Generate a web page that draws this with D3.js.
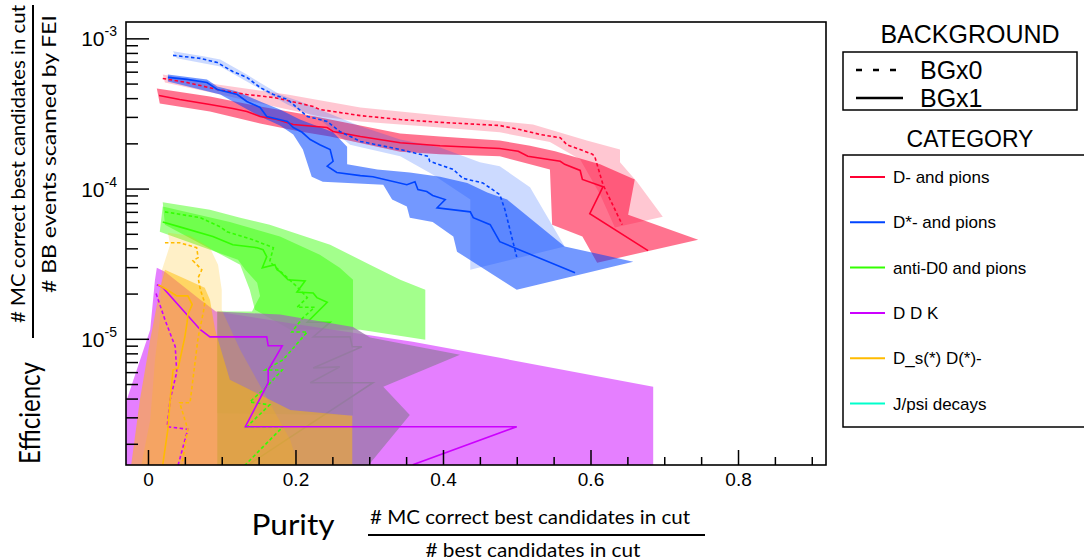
<!DOCTYPE html>
<html><head><meta charset="utf-8">
<script src="https://cdn.jsdelivr.net/npm/d3@7"></script>
<style>body{margin:0;background:#fff;} svg{display:block;}</style>
</head><body><svg id="c" width="1084" height="560"></svg>
<script>
// ---------------- DATA (purity, efficiency) ----------------
const categories = ["D- and pions","D*- and pions","anti-D0 and pions","D D K","D_s(*) D(*)-","J/psi decays"];
const backgrounds = ["BGx0","BGx1"];
const xTicks = [0,0.2,0.4,0.6,0.8];
const yTicks = [1e-3,1e-4,1e-5];
const yTickExp = ["-3","-4","-5"];

// D- and pions
const redX1Line = [[0.015,4.17e-4],[0.043,3.92e-4],[0.084,3.63e-4],[0.115,3.41e-4],[0.134,3.26e-4],[0.152,3.02e-4],[0.175,2.88e-4],[0.197,2.67e-4],[0.243,2.55e-4],[0.251,2.40e-4],[0.288,2.22e-4],[0.342,2.02e-4],[0.396,1.93e-4],[0.477,1.85e-4],[0.502,1.77e-4],[0.515,1.64e-4],[0.559,1.52e-4],[0.565,1.45e-4],[0.586,1.32e-4],[0.589,1.15e-4],[0.617,1.03e-4],[0.599,6.8e-5],[0.678,3.86e-5]];
const redX1Up = [[0.012,4.64e-4],[0.084,4.10e-4],[0.152,3.52e-4],[0.206,3.16e-4],[0.247,2.88e-4],[0.342,2.33e-4],[0.396,2.22e-4],[0.477,2.09e-4],[0.518,1.93e-4],[0.552,1.77e-4],[0.613,1.45e-4],[0.660,1.15e-4],[0.651,6.7e-5],[0.746,4.57e-5]];
const redX1Lo = [[0.016,3.69e-4],[0.084,3.26e-4],[0.152,2.71e-4],[0.206,2.40e-4],[0.247,2.22e-4],[0.342,1.76e-4],[0.396,1.69e-4],[0.477,1.64e-4],[0.518,1.45e-4],[0.545,1.34e-4],[0.548,5.75e-5],[0.589,4.79e-5],[0.609,3.21e-5]];
const redX0Line = [[0.020,5.41e-4],[0.053,5.08e-4],[0.094,4.57e-4],[0.134,4.23e-4],[0.170,4.04e-4],[0.189,3.86e-4],[0.224,3.52e-4],[0.233,3.36e-4],[0.288,3.06e-4],[0.342,2.88e-4],[0.396,2.76e-4],[0.477,2.63e-4],[0.504,2.47e-4],[0.532,2.29e-4],[0.559,2.18e-4],[0.568,1.96e-4],[0.603,1.69e-4],[0.606,1.62e-4],[0.617,1.06e-4],[0.643,5.75e-5]];
const redX0Up = [[0.020,5.75e-4],[0.094,4.93e-4],[0.189,4.23e-4],[0.288,3.47e-4],[0.396,3.06e-4],[0.522,2.67e-4],[0.595,2.09e-4],[0.640,1.82e-4],[0.640,1.50e-4],[0.663,1.11e-4],[0.698,6.5e-5]];
const redX0Lo = [[0.023,5.08e-4],[0.098,4.23e-4],[0.233,3.02e-4],[0.288,2.80e-4],[0.396,2.55e-4],[0.477,2.37e-4],[0.545,2.04e-4],[0.586,1.56e-4],[0.613,9.12e-5],[0.633,5.5e-5]];

// D*- and pions
const blueX1Line = [[0.027,5.5e-4],[0.053,5.33e-4],[0.080,5.08e-4],[0.094,4.57e-4],[0.121,4.23e-4],[0.134,3.8e-4],[0.152,3.47e-4],[0.161,3.02e-4],[0.189,2.8e-4],[0.197,2.55e-4],[0.209,2.37e-4],[0.220,2.12e-4],[0.233,1.96e-4],[0.247,1.82e-4],[0.251,1.52e-4],[0.243,1.41e-4],[0.256,1.28e-4],[0.288,1.22e-4],[0.305,1.20e-4],[0.351,1.06e-4],[0.362,1.11e-4],[0.366,9.85e-5],[0.378,9.55e-5],[0.386,9.0e-5],[0.403,8.45e-5],[0.392,7.45e-5],[0.437,7.0e-5],[0.441,6.4e-5],[0.464,5.75e-5],[0.477,4.43e-5],[0.579,2.75e-5]];
const blueX1Up = [[0.027,5.75e-4],[0.080,5.33e-4],[0.094,4.79e-4],[0.121,4.43e-4],[0.152,3.8e-4],[0.179,3.36e-4],[0.206,2.88e-4],[0.251,2.37e-4],[0.270,1.9e-4],[0.270,1.45e-4],[0.311,1.34e-4],[0.355,1.28e-4],[0.396,1.2e-4],[0.433,1.09e-4],[0.460,9.4e-5],[0.487,8.45e-5],[0.565,4.12e-5],[0.658,3.26e-5]];
const blueX1Lo = [[0.027,5.16e-4],[0.098,4.23e-4],[0.152,3.02e-4],[0.179,2.63e-4],[0.197,2.29e-4],[0.210,1.82e-4],[0.222,1.2e-4],[0.237,1.11e-4],[0.319,1.06e-4],[0.331,8.45e-5],[0.351,7.6e-5],[0.355,6.4e-5],[0.386,6.0e-5],[0.414,4.79e-5],[0.419,3.8e-5],[0.500,2.12e-5]];
const blueX0Line = [[0.034,7.7e-4],[0.071,7.36e-4],[0.094,6.9e-4],[0.115,6.02e-4],[0.134,5.5e-4],[0.152,4.71e-4],[0.170,4.23e-4],[0.189,3.92e-4],[0.197,3.63e-4],[0.216,3.02e-4],[0.243,2.8e-4],[0.260,2.4e-4],[0.278,2.18e-4],[0.288,2.06e-4],[0.342,1.82e-4],[0.380,1.64e-4],[0.382,1.52e-4],[0.414,1.34e-4],[0.427,1.17e-4],[0.454,1.09e-4],[0.477,9.12e-5],[0.484,7.24e-5],[0.500,3.5e-5]];
const blueX0Up = [[0.034,8.2e-4],[0.075,7.6e-4],[0.098,7.24e-4],[0.134,5.75e-4],[0.156,4.93e-4],[0.179,4.23e-4],[0.206,3.8e-4],[0.288,2.6e-4],[0.342,2.12e-4],[0.396,1.88e-4],[0.450,1.5e-4],[0.477,1.41e-4],[0.518,1.02e-4],[0.565,4.12e-5]];
const blueX0Lo = [[0.039,7.36e-4],[0.098,6.5e-4],[0.189,3.63e-4],[0.233,2.88e-4],[0.274,1.96e-4],[0.342,1.64e-4],[0.386,1.24e-4],[0.437,8.45e-5],[0.437,2.88e-5]];

// anti-D0 and pions
const greenX1Line = [[0.020,6.0e-5],[0.043,5.56e-5],[0.088,4.79e-5],[0.115,4.23e-5],[0.148,4.04e-5],[0.156,3.92e-5],[0.161,3.52e-5],[0.155,2.97e-5],[0.172,3.11e-5],[0.175,2.88e-5],[0.179,2.8e-5],[0.190,2.47e-5],[0.213,2.43e-5],[0.202,2.05e-5],[0.224,2.02e-5],[0.229,1.88e-5],[0.243,1.75e-5],[0.216,1.29e-5],[0.247,1.29e-5],[0.224,1.03e-5],[0.274,1.03e-5],[0.277,8.85e-6],[0.290,8.85e-6],[0.224,6.4e-6],[0.260,6.5e-6],[0.220,5.1e-6],[0.305,5.1e-6],[0.1315,1.4e-6]];
const greenX1Up = [[0.020,7.6e-5],[0.111,6.0e-5],[0.179,4.79e-5],[0.233,3.63e-5],[0.260,2.97e-5],[0.278,2.47e-5],[0.278,3.1e-6]];
const greenX1Lo = [[0.016,5.16e-5],[0.122,3.36e-5],[0.132,2.88e-5],[0.148,2.36e-5],[0.152,1.93e-5],[0.141,1.52e-5],[0.094,1.52e-5],[0.094,3.2e-6]];
const greenX0Line = [[0.023,7.0e-5],[0.071,6.4e-5],[0.098,5.56e-5],[0.107,5.16e-5],[0.142,4.57e-5],[0.170,4.04e-5],[0.165,3.26e-5],[0.189,2.55e-5],[0.202,2.22e-5],[0.216,1.88e-5],[0.202,1.62e-5],[0.226,1.62e-5],[0.210,1.38e-5],[0.195,1.11e-5],[0.216,1.11e-5],[0.183,7.24e-6],[0.159,6.2e-6],[0.182,6.2e-6],[0.161,4.8e-6],[0.138,3.8e-6],[0.165,3.63e-6],[0.134,2.6e-6],[0.183,2.6e-6],[0.129,1.4e-6]];
const greenX0Up = [[0.020,8.1e-5],[0.084,7.24e-5],[0.125,6.4e-5],[0.165,5.75e-5],[0.206,4.93e-5],[0.247,4.23e-5],[0.301,3.11e-5],[0.342,2.47e-5],[0.376,2.12e-5],[0.376,9.85e-6]];
const greenX0Lo = [[0.023,5.75e-5],[0.125,3.11e-5],[0.138,2.12e-5],[0.145,1.56e-5],[0.193,1.15e-5],[0.288,1.15e-5]];

// D D K
const ddkX1Line = [[0.012,2.29e-5],[0.020,2.2e-5],[0.071,1.15e-5],[0.084,1.03e-5],[0.161,1.03e-5],[0.163,8.98e-6],[0.182,8.98e-6],[0.163,6.2e-6],[0.163,5.1e-6],[0.132,2.6e-6],[0.500,2.6e-6],[0.359,1.45e-6]];
const ddkX1Up = [[0.012,2.97e-5],[0.023,2.8e-5],[0.071,1.82e-5],[0.092,1.52e-5],[0.206,1.24e-5],[0.359,9.55e-6],[0.477,7.47e-6],[0.685,4.79e-6],[0.685,1.3e-6]];
const ddkX1Lo = [[0.0095,2.47e-5],[0.003,1.15e-5],[-0.038,2.88e-6],[-0.038,1.3e-6]];
const ddkX0Line = [[0.011,2.0e-5],[0.023,1.34e-5],[0.037,8.85e-6],[0.039,6.0e-6],[0.030,3.92e-6],[0.026,2.6e-6],[0.054,2.5e-6],[0.041,1.45e-6]];
const ddkX0Up = [[0.094,1.52e-5],[0.179,1.45e-5],[0.278,1.2e-5],[0.301,1.02e-5],[0.423,7.82e-6]];
const ddkX0Lo = [[0.094,1.3e-6],[0.2915,1.3e-6],[0.355,3.11e-6],[0.319,4.79e-6]];

// D_s(*) D(*)-
const dsX1Line = [[0.014,2.29e-5],[0.026,2.12e-5],[0.039,1.93e-5],[0.054,1.93e-5],[0.060,1.69e-5],[0.054,1.45e-5],[0.053,1.28e-5],[0.050,1.03e-5],[0.041,6.4e-6],[0.034,6.2e-6],[0.030,3.92e-6],[0.027,2.5e-6],[0.020,1.45e-6]];
const dsX1Up = [[0.023,2.88e-5],[0.077,2.19e-5],[0.084,1.82e-5],[0.091,1.15e-5],[0.111,5.33e-6],[0.193,3.36e-6],[0.277,3.07e-6],[0.277,1.3e-6]];
const dsX1Lo = [[0.016,2.12e-5],[0.003,9.85e-6],[-0.011,3.92e-6],[-0.024,1.3e-6]];
const dsX0Line = [[0.023,4.36e-5],[0.043,4.36e-5],[0.066,4.04e-5],[0.068,3.47e-5],[0.061,3.31e-5],[0.073,2.88e-5],[0.068,2.55e-5],[0.071,2.12e-5],[0.077,1.74e-5],[0.075,1.5e-5],[0.071,1.2e-5],[0.068,1.02e-5],[0.057,3.75e-6],[0.043,3.75e-6],[0.054,2.5e-6],[0.046,1.45e-6]];
const dsX0Up = [[0.027,5.08e-5],[0.057,4.86e-5],[0.084,4.04e-5],[0.095,3.11e-5],[0.100,2.12e-5],[0.100,1.56e-5],[0.125,8.45e-6],[0.193,2.12e-6],[0.206,1.3e-6]];
const dsX0Lo = [[0.030,4.23e-5],[0.019,2.88e-5],[0.016,1.34e-5],[0.0095,7.24e-6],[0.003,2.88e-6],[-0.011,1.3e-6]];

// ---------------- STYLE ----------------
const COL = {red:"#ff0033", blue:"#0044ff", green:"#33ff00", purple:"#cc00ff", yellow:"#ffbb00", cyan:"#00ffcc"};
const catColors = [COL.red, COL.blue, COL.green, COL.purple, COL.yellow, COL.cyan];
const FONT = "'Liberation Sans', Arial, sans-serif";
const TFONT = "Lato, 'Open Sans', sans-serif";

const svg = d3.select("#c");
const X0=126, X1=826, Y0=22, Y1=465;
const x = d3.scaleLinear().domain([-0.0298,0.9193]).range([X0,X1]);
const y = d3.scaleLog().domain([1.445e-6,1.285e-3]).range([Y1,Y0]);

svg.append("defs").append("clipPath").attr("id","clip")
  .append("rect").attr("x",X0).attr("y",Y0).attr("width",X1-X0).attr("height",Y1-Y0);
const plot = svg.append("g").attr("clip-path","url(#clip)");

const lineGen = d3.line().x(d=>x(d[0])).y(d=>y(d[1]));
function band(up, lo, fill, op){
  const pts = up.concat(lo.slice().reverse());
  plot.append("path").attr("d", lineGen(pts)+"Z").attr("fill",fill).attr("fill-opacity",op).attr("stroke","none");
}
function line(data, color, dashed){
  plot.append("path").attr("d", lineGen(data)).attr("fill","none").attr("stroke",color)
    .attr("stroke-width",1.6).attr("stroke-linejoin","miter")
    .attr("stroke-dasharray", dashed ? "3.5,2.5" : null);
}

// layers in drawing order
band(redX0Up, redX0Lo, COL.red, 0.22);
band(redX1Up, redX1Lo, COL.red, 0.55);
band(blueX0Up, blueX0Lo, COL.blue, 0.2);
band(blueX1Up, blueX1Lo, COL.blue, 0.55);
band(greenX0Up, greenX0Lo, COL.green, 0.45);
band(greenX1Up, greenX1Lo, COL.green, 0.45);
line(greenX1Line, COL.green, false);
band(ddkX1Up, ddkX1Lo, COL.purple, 0.5);
band(ddkX0Up, ddkX0Lo, "rgb(156,121,171)", 0.79);
band(dsX0Up, dsX0Lo, COL.yellow, 0.22);
band(dsX1Up, dsX1Lo, COL.yellow, 0.5);

line(redX1Line, COL.red, false);
line(redX0Line, COL.red, true);
line(blueX1Line, COL.blue, false);
line(blueX0Line, COL.blue, true);
line(greenX0Line, COL.green, true);
line(ddkX1Line, COL.purple, false);
line(ddkX0Line, COL.purple, true);
line(dsX1Line, COL.yellow, false);
line(dsX0Line, COL.yellow, true);

// ---------------- AXES ----------------
const xMinor = d3.range(0, 0.92, 0.05).filter(v => !xTicks.some(t => Math.abs(t-v)<1e-9));
const xMajAxis = d3.axisBottom(x).tickValues(xTicks).tickSize(-15).tickPadding(8)
  .tickFormat(d => d===0 ? "0" : d3.format(".1f")(d));
const gx = svg.append("g").attr("transform",`translate(0,${Y1})`).call(xMajAxis);
gx.select(".domain").remove();
gx.selectAll("line").attr("stroke","#000").attr("stroke-width",1.5);
gx.selectAll("text").attr("font-family",FONT).attr("font-size",19).attr("fill","#000");
const gxm = svg.append("g").attr("transform",`translate(0,${Y1})`)
  .call(d3.axisBottom(x).tickValues(xMinor).tickSize(-8).tickFormat(""));
gxm.select(".domain").remove();
gxm.selectAll("line").attr("stroke","#000").attr("stroke-width",1.5);

const yMinor = [];
[1e-6,1e-5,1e-4,1e-3].forEach(d => { for (let m=2;m<=9;m++){ const v=m*d; if (v>1.445e-6 && v<1.285e-3) yMinor.push(v);} });
const gy = svg.append("g").attr("transform",`translate(${X0},0)`)
  .call(d3.axisRight(y).tickValues(yTicks).tickSize(23).tickFormat(""));
gy.select(".domain").remove();
gy.selectAll("line").attr("stroke","#000").attr("stroke-width",1.5);
const gym = svg.append("g").attr("transform",`translate(${X0},0)`)
  .call(d3.axisRight(y).tickValues(yMinor).tickSize(12).tickFormat(""));
gym.select(".domain").remove();
gym.selectAll("line").attr("stroke","#000").attr("stroke-width",1.5);

yTicks.forEach((v,i) => {
  const t = svg.append("text").attr("x",117).attr("y",y(v)+8).attr("text-anchor","end")
    .attr("font-family",FONT).attr("font-size",21).attr("fill","#000");
  t.append("tspan").text("10");
  t.append("tspan").attr("dy",-10).attr("font-size",14).text(yTickExp[i]);
});

// frame
svg.append("rect").attr("x",X0).attr("y",Y0).attr("width",X1-X0).attr("height",Y1-Y0)
  .attr("fill","none").attr("stroke","#000").attr("stroke-width",1.6);

// ---------------- TITLES ----------------
svg.append("text").attr("x",293).attr("y",535).attr("text-anchor","middle")
  .attr("font-family",TFONT).attr("font-size",29).attr("textLength",83).attr("lengthAdjust","spacingAndGlyphs").text("Purity");
svg.append("text").attr("x",530).attr("y",524).attr("text-anchor","middle")
  .attr("font-family",TFONT).attr("font-size",19).attr("textLength",320).attr("lengthAdjust","spacingAndGlyphs")
  .text("# MC correct best candidates in cut");
svg.append("line").attr("x1",368).attr("x2",705).attr("y1",535).attr("y2",535).attr("stroke","#000").attr("stroke-width",2);
svg.append("text").attr("x",533).attr("y",557).attr("text-anchor","middle")
  .attr("font-family",TFONT).attr("font-size",19).attr("textLength",215).attr("lengthAdjust","spacingAndGlyphs")
  .text("# best candidates in cut");

svg.append("text").attr("transform","translate(40,413) rotate(-90)").attr("text-anchor","middle")
  .attr("font-family",TFONT).attr("font-size",29).attr("textLength",102).attr("lengthAdjust","spacingAndGlyphs").text("Efficiency");
svg.append("text").attr("transform","translate(25,164) rotate(-90)").attr("text-anchor","middle")
  .attr("font-family",TFONT).attr("font-size",19).attr("textLength",318).attr("lengthAdjust","spacingAndGlyphs")
  .text("# MC correct best candidates in cut");
svg.append("line").attr("x1",33).attr("x2",33).attr("y1",5).attr("y2",338).attr("stroke","#000").attr("stroke-width",2);
svg.append("text").attr("transform","translate(56,154) rotate(-90)").attr("text-anchor","middle")
  .attr("font-family",TFONT).attr("font-size",19).attr("textLength",278).attr("lengthAdjust","spacingAndGlyphs")
  .text("# BB events scanned by FEI");

// ---------------- LEGENDS ----------------
svg.append("text").attr("x",970).attr("y",43).attr("text-anchor","middle")
  .attr("font-family",FONT).attr("font-size",25).text("BACKGROUND");
svg.append("rect").attr("x",843).attr("y",52).attr("width",234).attr("height",58)
  .attr("fill","#fff").attr("stroke","#000").attr("stroke-width",1.5);
const bgStyles = [{dash:"6,11", y:70},{dash:null, y:98}];
backgrounds.forEach((b,i) => {
  svg.append("line").attr("x1",856).attr("x2",i===0?899:903).attr("y1",bgStyles[i].y).attr("y2",bgStyles[i].y)
    .attr("stroke","#000").attr("stroke-width",2.5).attr("stroke-dasharray",bgStyles[i].dash);
  svg.append("text").attr("x",920).attr("y",bgStyles[i].y+9).attr("font-family",FONT).attr("font-size",25).text(b);
});
svg.append("text").attr("x",970).attr("y",147).attr("text-anchor","middle")
  .attr("font-family",FONT).attr("font-size",23).text("CATEGORY");
svg.append("rect").attr("x",843).attr("y",155).attr("width",260).attr("height",272)
  .attr("fill","#fff").attr("stroke","#000").attr("stroke-width",1.5);
categories.forEach((c,i) => {
  const yy = 177 + i*45.3;
  svg.append("line").attr("x1",850).attr("x2",885).attr("y1",yy).attr("y2",yy)
    .attr("stroke",catColors[i]).attr("stroke-width",2);
  svg.append("text").attr("x",893).attr("y",yy+6).attr("font-family",FONT).attr("font-size",17).text(c);
});
</script></body></html>
